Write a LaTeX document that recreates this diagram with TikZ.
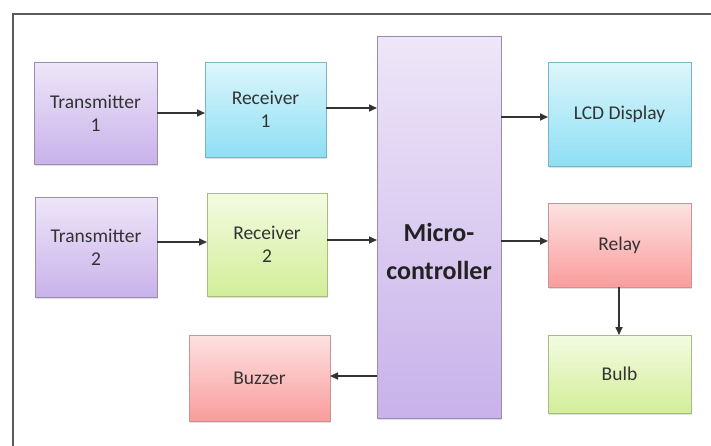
\documentclass[tikz,border=0pt]{standalone}
\usepackage{fontspec}
\setmainfont{Carlito}
\usetikzlibrary{arrows.meta,shadows}
\definecolor{txt}{HTML}{333333}
\definecolor{mctxt}{HTML}{222222}
\definecolor{framec}{HTML}{5A5A5A}
\definecolor{arrc}{HTML}{333333}
\definecolor{purpD}{HTML}{9C8CB0}\definecolor{purpT}{HTML}{EEE6F8}\definecolor{purpB}{HTML}{C8B2EA}
\definecolor{cyanD}{HTML}{78B4C2}\definecolor{cyanT}{HTML}{DDF6FB}\definecolor{cyanB}{HTML}{8EDFF4}
\definecolor{grnD}{HTML}{A6BC82}\definecolor{grnT}{HTML}{F4FBE2}\definecolor{grnB}{HTML}{D2EE98}
\definecolor{pnkD}{HTML}{C89494}\definecolor{pnkT}{HTML}{FDE2E2}\definecolor{pnkB}{HTML}{FA9C9C}
\tikzset{
  blk/.style={rectangle, inner sep=0pt, outer sep=0pt, line width=0.9pt,
    align=center, text=txt, font=\fontsize{19.5}{23}\selectfont,
    drop shadow={shadow xshift=1.2pt, shadow yshift=-1.8pt, opacity=0.25}},
  purp/.style={blk, draw=purpD, top color=purpT, bottom color=purpB},
  cyanb/.style={blk, draw=cyanD, top color=cyanT, bottom color=cyanB},
  greenb/.style={blk, draw=grnD, top color=grnT, bottom color=grnB},
  pinkb/.style={blk, draw=pnkD, top color=pnkT, bottom color=pnkB},
  arr/.style={draw=arrc, line width=1.6pt, -{Triangle[length=8pt,width=7pt]}},
}
% place a block by its corner coordinates
\newcommand{\blkat}[7]{%
  \pgfmathsetmacro{\bw}{#4-#2}\pgfmathsetmacro{\bh}{#5-#3}%
  \node[#6, minimum width=\bw pt, minimum height=\bh pt] (#1) at ({(#2+#4)/2},{(#3+#5)/2}) {#7};}
\begin{document}
\begin{tikzpicture}[x=1pt,y=-1pt]
\useasboundingbox (0,0) rectangle (711,445);
\fill[white] (0,0) rectangle (711,445);
% outer frame
\draw[framec, line width=1.2pt] (13,460) -- (13,14) -- (725,14);

\blkat{t1}{34}{62}{157}{164}{purp}{Transmitter\\1}
\blkat{r1}{205}{62}{326}{157}{cyanb}{Receiver\\1}
\blkat{t2}{35}{197}{157}{297}{purp}{Transmitter\\2}
\blkat{r2}{207}{193}{327}{296}{greenb}{Receiver\\2}
\blkat{mc}{377}{36}{501}{418}{purp}{}
\node[align=center, text=mctxt, font=\bfseries\fontsize{26}{38}\selectfont]
  (mclabel) at ([yshift=-24pt]mc.center) {Micro-\\controller};
\blkat{lcd}{548}{62}{691}{166}{cyanb}{LCD Display}
\blkat{relay}{548}{203}{691}{287}{pinkb}{Relay}
\blkat{bulb}{548}{335}{691}{413}{greenb}{Bulb}
\blkat{buzz}{189}{335}{330}{421}{pinkb}{Buzzer}

% connectors
\draw[arr] (t1.east) -- (t1.east -| r1.west);
\draw[arr] ([yshift=1.5pt]r1.east) -- ([yshift=1.5pt]r1.east -| mc.west);
\draw[arr] ([yshift=-3pt]lcd.west -| mc.east) -- ([yshift=-3pt]lcd.west);
\draw[arr] ([yshift=2.5pt]r2.west -| t2.east) -- ([yshift=2.5pt]r2.west);
\draw[arr] ([yshift=4.5pt]r2.east) -- ([yshift=4.5pt]r2.east -| mc.west);
\draw[arr] ([yshift=4pt]relay.west -| mc.east) -- ([yshift=4pt]relay.west);
\draw[arr] ([xshift=-0.5pt]relay.south) -- ([xshift=-0.5pt]bulb.north);
\draw[arr] ([yshift=2pt]buzz.east -| mc.west) -- ([yshift=2pt]buzz.east);
\end{tikzpicture}
\end{document}
